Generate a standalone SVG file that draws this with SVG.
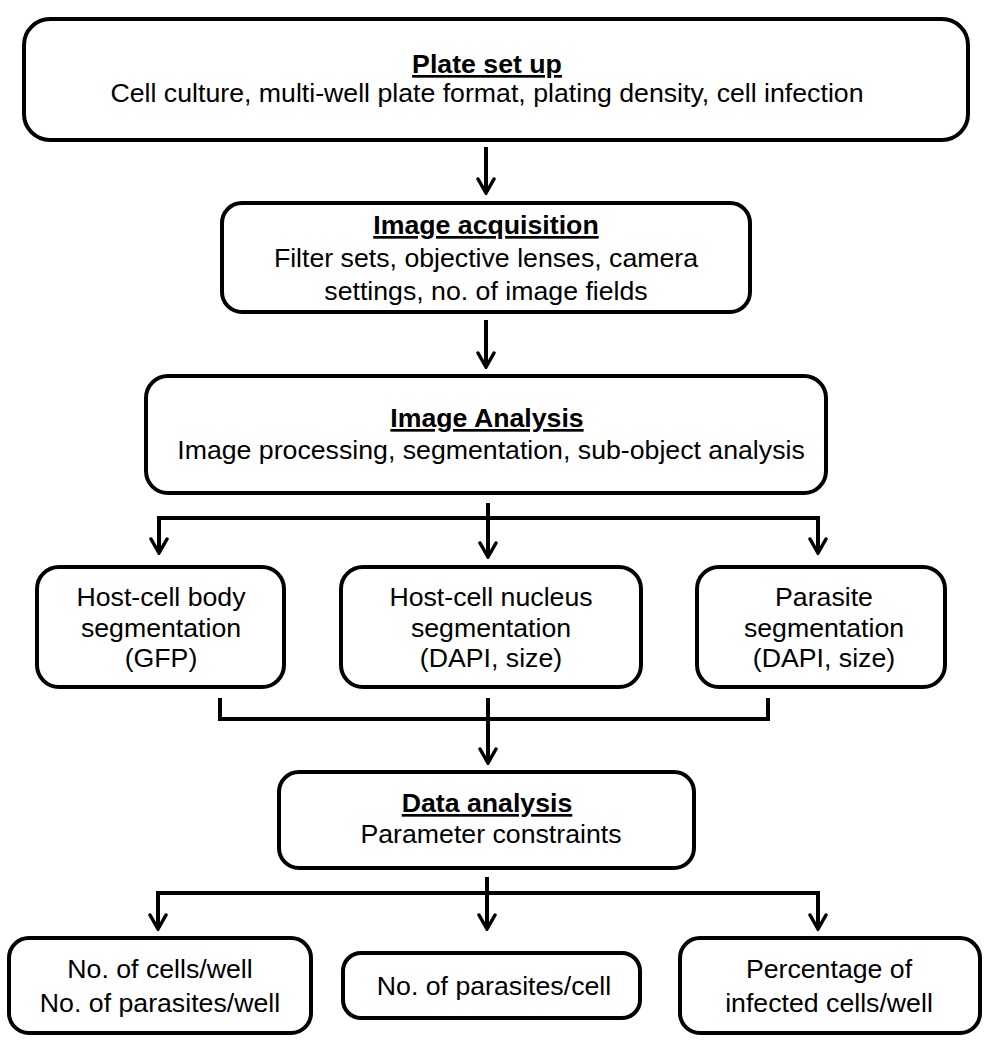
<svg xmlns="http://www.w3.org/2000/svg" width="992" height="1050" viewBox="0 0 992 1050">
<defs>
<style>
.box{fill:#fff;stroke:#000;stroke-width:4}
.t{font-family:"Liberation Sans",Arial,sans-serif;font-size:26.7px;fill:#000;text-anchor:middle}
.h{font-weight:bold;text-decoration:underline}
.c{fill:none;stroke:#000;stroke-width:4}
</style>
<marker id="ah" viewBox="0 0 18 20" refX="16" refY="10" markerWidth="18" markerHeight="20" markerUnits="userSpaceOnUse" orient="auto">
<path d="M2,2 L16,10 L2,18" fill="none" stroke="#000" stroke-width="3.5" stroke-linecap="round" stroke-linejoin="miter"/>
</marker>
</defs>
<rect width="992" height="1050" fill="#fff"/>
<g id="connectors">
<path class="c" d="M486,147 V193" marker-end="url(#ah)"/>
<path class="c" d="M486,320 V367" marker-end="url(#ah)"/>
<path class="c" d="M488,503 V557" marker-end="url(#ah)"/>
<path class="c" d="M159,553 V518 H818 V553" marker-end="url(#ah)"/>
<path class="c" d="M159,518 V553" marker-end="url(#ah)"/>
<path class="c" d="M220,698 V719 H768 V698"/>
<path class="c" d="M488,698 V763" marker-end="url(#ah)"/>
<path class="c" d="M487,877 V929" marker-end="url(#ah)"/>
<path class="c" d="M158,929 V893 H818 V929" marker-end="url(#ah)"/>
<path class="c" d="M158,893 V929" marker-end="url(#ah)"/>
</g>
<g id="plate-setup">
<rect class="box" x="24" y="19" width="944" height="121" rx="26"/>
<text class="t h" x="487" y="73">Plate set up</text>
<text class="t" x="487" y="102">Cell culture, multi-well plate format, plating density, cell infection</text>
</g>
<g id="image-acquisition">
<rect class="box" x="222" y="203" width="528" height="109" rx="20"/>
<text class="t h" x="486" y="234">Image acquisition</text>
<text class="t" x="486" y="267">Filter sets, objective lenses, camera</text>
<text class="t" x="486" y="300">settings, no. of image fields</text>
</g>
<g id="image-analysis">
<rect class="box" x="146" y="376" width="680" height="117" rx="22"/>
<text class="t h" x="487" y="427">Image Analysis</text>
<text class="t" x="491" y="459">Image processing, segmentation, sub-object analysis</text>
</g>
<g id="host-body">
<rect class="box" x="37" y="567" width="247" height="120" rx="22"/>
<text class="t" x="161" y="606">Host-cell body</text>
<text class="t" x="161" y="637">segmentation</text>
<text class="t" x="161" y="667">(GFP)</text>
</g>
<g id="host-nucleus">
<rect class="box" x="341" y="567" width="300" height="120" rx="22"/>
<text class="t" x="491" y="606">Host-cell nucleus</text>
<text class="t" x="491" y="637">segmentation</text>
<text class="t" x="491" y="667">(DAPI, size)</text>
</g>
<g id="parasite">
<rect class="box" x="697" y="567" width="248" height="120" rx="22"/>
<text class="t" x="824" y="606">Parasite</text>
<text class="t" x="824" y="637">segmentation</text>
<text class="t" x="824" y="667">(DAPI, size)</text>
</g>
<g id="data-analysis">
<rect class="box" x="279" y="772" width="415" height="96" rx="20"/>
<text class="t h" x="487" y="812">Data analysis</text>
<text class="t" x="491" y="843">Parameter constraints</text>
</g>
<g id="cells-well">
<rect class="box" x="9" y="938" width="302" height="95" rx="20"/>
<text class="t" x="160" y="978">No. of cells/well</text>
<text class="t" x="160" y="1012">No. of parasites/well</text>
</g>
<g id="parasites-cell">
<rect class="box" x="343" y="953" width="297" height="65" rx="18"/>
<text class="t" x="494" y="995">No. of parasites/cell</text>
</g>
<g id="percentage">
<rect class="box" x="680" y="938" width="300" height="95" rx="20"/>
<text class="t" x="829" y="978">Percentage of</text>
<text class="t" x="829" y="1012">infected cells/well</text>
</g>
</svg>
